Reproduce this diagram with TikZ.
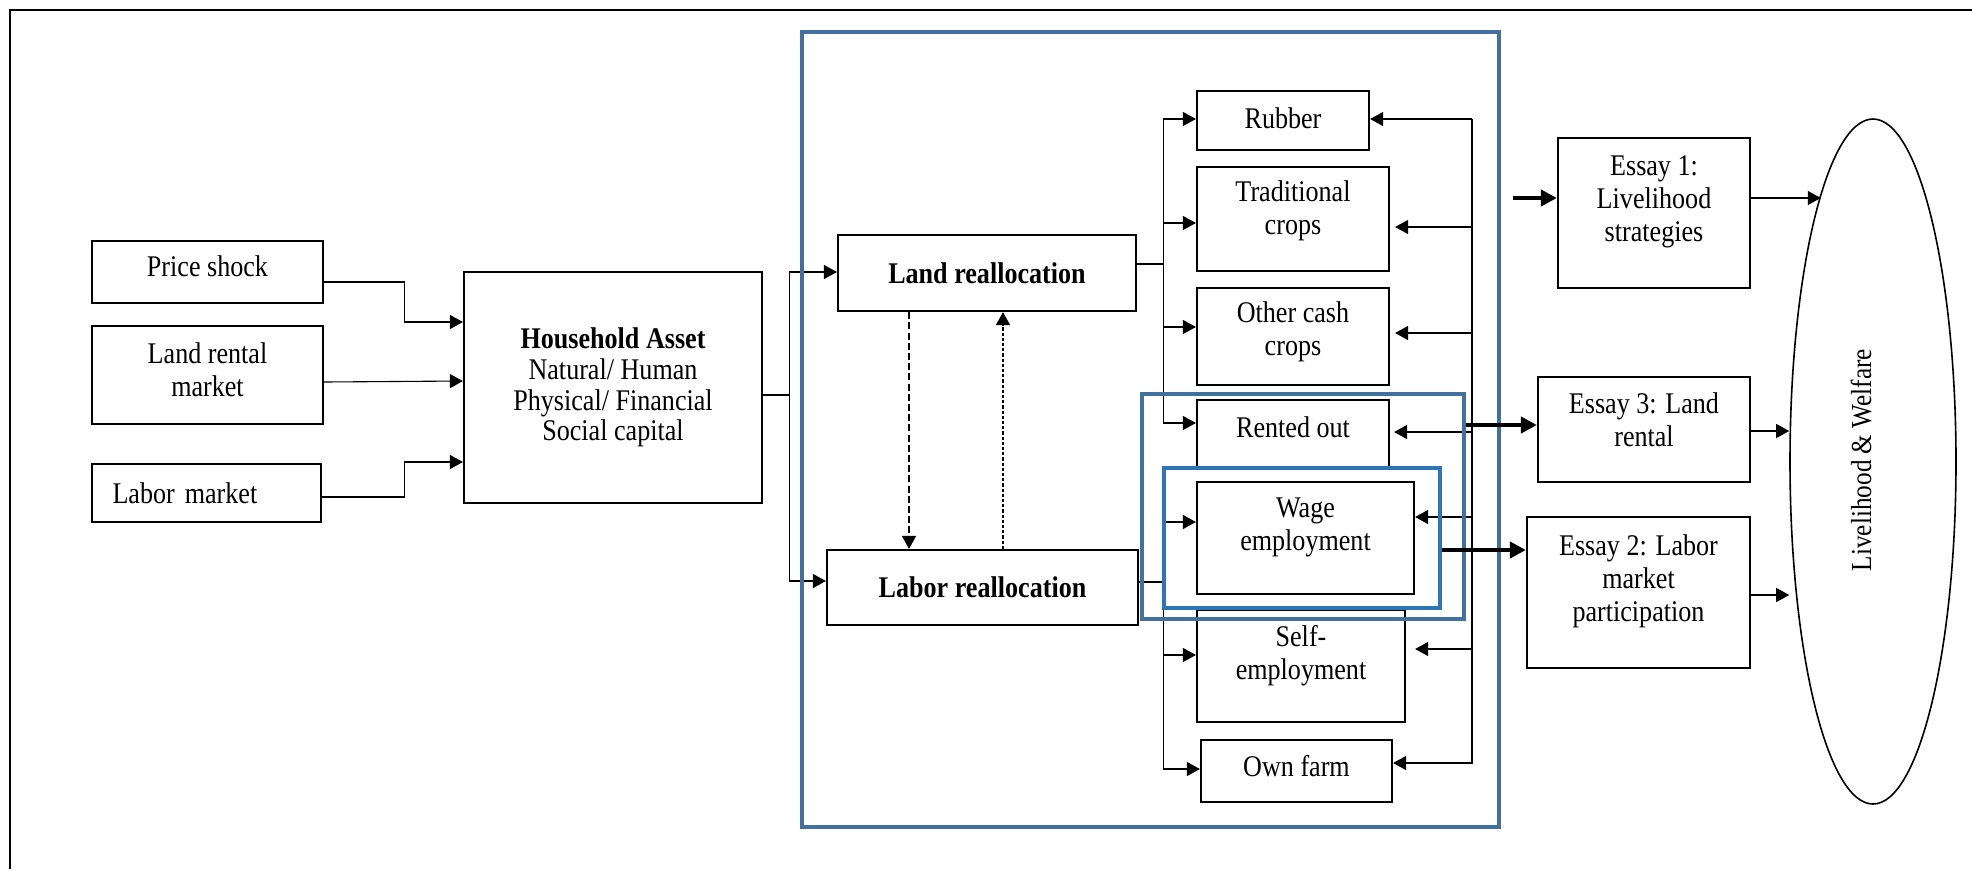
\documentclass[tikz,border=0pt]{standalone}
\usepackage{fontspec}
\setmainfont{Liberation Serif}[FakeStretch=0.87]
\usetikzlibrary{arrows.meta,shapes.geometric}
\definecolor{frameblue}{RGB}{65,113,156}
\definecolor{wageblue}{RGB}{46,117,182}

\begin{document}
\begin{tikzpicture}[x=0.5pt,y=-0.5pt,
  font=\fontsize{15}{16.5}\selectfont,
  box/.style={draw,line width=1.1pt,align=center,inner sep=0pt},
  grp/.style={draw=frameblue,line width=1.6pt,inner sep=0pt},
  con/.style={line width=0.55pt},
  arr/.style={con,-{Triangle[length=6.5pt,width=7pt]}},
  bk/.style={con,{Triangle[length=6.5pt,width=7pt]}-},
  bigarr/.style={line width=2.3pt,-{Triangle[length=8pt,width=8pt]}},
  dsh/.style={arr,dash pattern=on 3.5pt off 1.6pt},
  dts/.style={arr,dash pattern=on 1.6pt off 1pt}]
\useasboundingbox (0,0) rectangle (1972,869);
\draw[line width=1pt] (10,869) -- (10,10) -- (1972,10);

\node[box,minimum width=115.5pt,minimum height=31pt,text depth=6pt] (price) at (207.5,272) {Price shock};
\node[box,minimum width=115.5pt,minimum height=49pt,text depth=5pt] (landmkt) at (207.5,375) {Land rental\\market};
\node[box,minimum width=114.5pt,minimum height=29pt,text width=94pt,align=left,inner xsep=10.25pt] (labmkt) at (206.5,493) {Labor market};
\node[box,minimum width=149pt,minimum height=115.5pt,font=\fontsize{15}{15.3}\selectfont] (asset) at (613,387.5) {\textbf{Household Asset}\\Natural/ Human\\Physical/ Financial\\Social capital};

\node[box,minimum width=149pt,minimum height=38pt] (landre) at (987,273) {\textbf{Land reallocation}};
\node[box,minimum width=155.5pt,minimum height=37.5pt] (labre) at (982.5,587.5) {\textbf{Labor reallocation}};

\node[box,minimum width=86pt,minimum height=29.5pt,text depth=2.5pt] (rubber) at (1283,120.5) {Rubber};
\node[box,minimum width=96pt,minimum height=52pt,text depth=11pt] (trad) at (1293,219) {Traditional\\crops};
\node[box,minimum width=96pt,minimum height=48.5pt,text depth=7.5pt] (cash) at (1293,336.5) {Other cash\\crops};
\node[box,minimum width=96pt,minimum height=34.5pt,text depth=7.5pt] (rented) at (1293,434.5) {Rented out};
\node[box,minimum width=108.5pt,minimum height=56pt,text depth=14pt] (wage) at (1305.5,538) {Wage\\employment};
\node[box,minimum width=104pt,minimum height=56pt,text depth=14pt] (selfemp) at (1301,666) {Self-\\employment};
\node[box,minimum width=95.5pt,minimum height=31pt,text depth=5pt] (ownfarm) at (1296.5,771) {Own farm};

\node[box,minimum width=96pt,minimum height=75pt,text depth=14pt] (essayone) at (1654,213) {Essay 1:\\Livelihood\\strategies};
\node[box,minimum width=106pt,minimum height=52.5pt,text depth=9.5pt] (essaythree) at (1644,429.5) {Essay 3: Land\\rental};
\node[box,minimum width=111.5pt,minimum height=75.5pt,text depth=14.5pt] (essaytwo) at (1638.5,592.5) {Essay 2: Labor\\market\\participation};
\node[draw,ellipse,line width=0.8pt,minimum width=83pt,minimum height=342.5pt,inner sep=0pt] (welfare) at (1873,461.5) {};
\node[rotate=90,font=\fontsize{14.5}{16}\selectfont] (weltext) at (1861,460) {Livelihood \& Welfare};

\draw[arr] ([yshift=-5pt]price.east) -- ++(80,0) |- ([yshift=32.75pt]asset.west);
\draw[arr] ([yshift=-3.5pt]landmkt.east) -- ([yshift=3.25pt]asset.west);
\draw[arr] ([yshift=-2pt]labmkt.east) -- ++(82,0) |- ([yshift=-37.25pt]asset.west);
\draw[con] ([yshift=-3.75pt]asset.east) -- ++(26,0) coordinate (assetout);
\draw[arr] (assetout) |- ([yshift=0.5pt]landre.west);
\draw[arr] (assetout) |- ([yshift=3.25pt]labre.west);

\draw[dsh] ([xshift=-39pt]landre.south) coordinate (dd) -- (dd |- labre.north);
\draw[dts] ([xshift=10.25pt]labre.north) coordinate (du) -- (du |- landre.south);

\draw[con] ([yshift=4.5pt]landre.east) -- ++(26,0) coordinate (landout);
\draw[arr] (landout) |- ([yshift=0.75pt]rubber.west);
\draw[arr] (landout) |- ([yshift=-2pt]trad.west);
\draw[arr] (landout) |- ([yshift=4.75pt]cash.west);
\draw[arr] (landout) |- ([yshift=5.75pt]rented.west);
\draw[con] ([yshift=2.75pt]labre.east) -- ++(24,0) coordinate (laborout);
\draw[arr] (laborout) |- ([yshift=8pt]wage.west);
\draw[arr] (laborout) |- ([yshift=5.5pt]selfemp.west);
\draw[arr] (laborout) |- ([yshift=1pt]ownfarm.west);

\coordinate (fbtop) at (1472,119);
\draw[bk] ([yshift=0.75pt]rubber.east) -| (fbtop);
\draw[bk] ([xshift=2.5pt,yshift=-4pt]trad.east) -| (fbtop);
\draw[bk] ([xshift=2.5pt,yshift=1.75pt]cash.east) -| (fbtop);
\draw[bk] ([xshift=2pt,yshift=1.25pt]rented.east) -| (fbtop);
\draw[bk] ([yshift=10.5pt]wage.east) -| (fbtop);
\draw[bk] ([xshift=4.5pt,yshift=8.5pt]selfemp.east) -| (fbtop);
\draw[bk] ([yshift=4pt]ownfarm.east) -| (fbtop);

\node[grp,minimum width=348.5pt,minimum height=397.5pt] (grpall) at (1150.5,429.5) {};
\node[grp,minimum width=161pt,minimum height=112.5pt] (grprent) at (1303,506.5) {};
\node[grp,draw=wageblue,minimum width=138pt,minimum height=70pt] (grpwage) at (1302,538) {};

\coordinate (essayin) at (1513,198);
\draw[bigarr] (essayin) -- (essayin -| essayone.west);
\draw[bigarr] ([yshift=40.75pt]grprent.east) coordinate (rr) -- (rr -| essaythree.west);
\draw[bigarr] ([yshift=-6pt]grpwage.east) coordinate (ww) -- (ww -| essaytwo.west);

\draw[arr] ([yshift=7.5pt]essayone.east) coordinate (o1) -- (o1 -| welfare.101);
\draw[arr] ([yshift=-0.75pt]essaythree.east) coordinate (o3) -- (o3 -| welfare.west);
\draw[arr] ([yshift=-1.25pt]essaytwo.east) coordinate (o2) -- (o2 -| welfare.west);
\end{tikzpicture}
\end{document}
